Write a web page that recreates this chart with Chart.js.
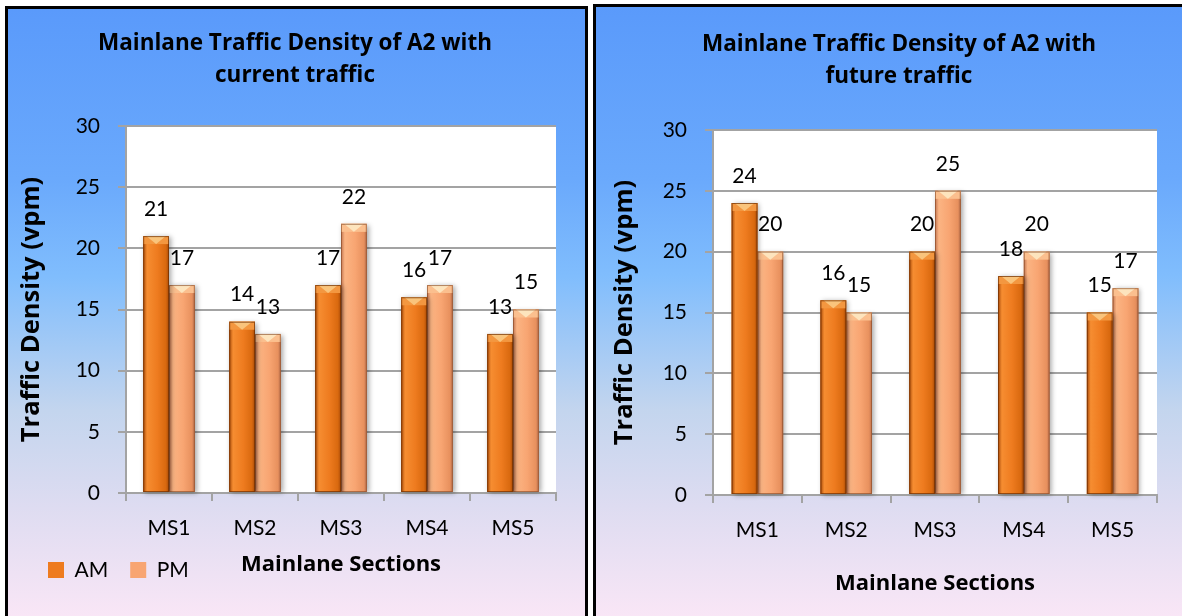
<!DOCTYPE html>
<html>
<head>
<meta charset="utf-8">
<title>Mainlane Traffic Density of A2</title>
<script src="https://cdn.jsdelivr.net/npm/chart.js@4.4.1/dist/chart.umd.min.js"></script>
<style>
  html, body { margin: 0; padding: 0; background: #fff; overflow: hidden; width: 1182px; height: 616px; }
  .panel {
    position: absolute; box-sizing: border-box; border: 3px solid #000;
    background: linear-gradient(to bottom, #5a9afb 0%, #6aa9fc 28%, #80bdfd 44%, #c3d5ee 66%, #dedcf1 82%, #f9e6f6 100%);
  }
  #panelCurrent { left: 5px; top: 6px; width: 583px; height: 614px; }
  #panelFuture  { left: 593px; top: 4px; width: 640px; height: 616px; }
  canvas { position: absolute; left: 0; top: 0; }
</style>
</head>
<body>
<div class="panel" id="panelCurrent"><canvas id="chartCurrent" width="577" height="622"></canvas></div>
<div class="panel" id="panelFuture"><canvas id="chartFuture" width="600" height="609"></canvas></div>
<script>
// Mainlane sections and densities (vehicles per mile), morning and evening peaks
const sections = ['MS1', 'MS2', 'MS3', 'MS4', 'MS5'];
const seriesNames = ['AM', 'PM'];
const currentAM = [21, 14, 17, 16, 13];
const currentPM = [17, 13, 22, 17, 15];
const futureAM = [24, 16, 20, 18, 15];
const futurePM = [20, 15, 25, 20, 17];
const densityMin = 0;
const densityMax = 30;
const densityStep = 5;
const titleCurrent = ['Mainlane Traffic Density of A2 with', 'current traffic'];
const titleFuture = ['Mainlane Traffic Density of A2 with', 'future traffic'];
const xAxisTitle = 'Mainlane Sections';
const yAxisTitle = 'Traffic Density (vpm)';

const FONT = 'Lato, "Open Sans", sans-serif';
const HEAD_FONT = '"Open Sans", Lato, sans-serif';
const GRID = '#a3a3a3';
const Y_TITLE_SIZE = 25.5;

// Colour ramps for the bevelled bars (AM darker orange, PM light orange)
const BAR_TONES = [
  { body: '#ee7b1f', light: '#f68d31', shade: '#d9690f', edge: '#a84a08', cap: '#f39740', capLight: '#f9c47c', outline: 'rgba(110,45,0,0.7)' },
  { body: '#f8a572', light: '#fbb483', shade: '#e8915e', edge: '#c27450', cap: '#fbbf8e', capLight: '#fde4bd', outline: 'rgba(130,70,35,0.6)' }
];

// White plotting area behind the grid
const plotBackground = {
  id: 'plotBackground',
  beforeDraw(chart) {
    const { ctx, chartArea: a } = chart;
    ctx.save();
    ctx.fillStyle = '#ffffff';
    ctx.fillRect(a.left, a.top, a.right - a.left, a.bottom - a.top);
    ctx.restore();
  }
};

// Shading and bevelled cap on each bar, drawn over the library's bar rectangles
const barShade = {
  id: 'barShade',
  afterDatasetDraw(chart, args) {
    const tone = BAR_TONES[args.index % BAR_TONES.length];
    const ctx = chart.ctx;
    args.meta.data.forEach(bar => {
      const { x, y, base, width } = bar.getProps(['x', 'y', 'base', 'width'], true);
      const l = x - width / 2, r = x + width / 2, h = base - y;
      ctx.save();
      ctx.shadowColor = 'rgba(0,0,0,0.35)';
      ctx.shadowBlur = 5;
      ctx.shadowOffsetX = 2;
      ctx.shadowOffsetY = 1;
      const g = ctx.createLinearGradient(l, 0, r, 0);
      g.addColorStop(0, tone.edge);
      g.addColorStop(0.15, tone.light);
      g.addColorStop(0.55, tone.body);
      g.addColorStop(0.88, tone.shade);
      g.addColorStop(1, tone.edge);
      ctx.fillStyle = g;
      ctx.fillRect(l, y, width, h);
      ctx.restore();

      const cap = Math.min(8, h);
      ctx.save();
      ctx.fillStyle = tone.cap;
      ctx.fillRect(l, y, width, cap);
      ctx.beginPath();
      ctx.moveTo(l + 3, y);
      ctx.lineTo(r - 3, y);
      ctx.lineTo(x, y + cap);
      ctx.closePath();
      ctx.fillStyle = tone.capLight;
      ctx.fill();
      ctx.strokeStyle = tone.outline;
      ctx.lineWidth = 1;
      ctx.strokeRect(l + 0.5, y + 0.5, width - 1, h - 1);
      ctx.restore();
    });
  }
};

// Value written above every bar
const valueLabels = {
  id: 'valueLabels',
  afterDatasetsDraw(chart, args, opts) {
    const ctx = chart.ctx;
    ctx.save();
    ctx.font = opts.size + 'px ' + FONT;
    ctx.fillStyle = '#000';
    ctx.textAlign = 'center';
    ctx.textBaseline = 'middle';
    chart.data.datasets.forEach((ds, i) => {
      chart.getDatasetMeta(i).data.forEach((bar, j) => {
        ctx.fillText(String(ds.data[j]), bar.x, bar.y - opts.lift);
      });
    });
    ctx.restore();
  }
};

// Legend sits on the same row as the category axis title
const legendPlacement = {
  id: 'legendPlacement',
  afterLayout(chart, args, opts) {
    const lg = chart.legend;
    if (!lg || !opts.enabled) return;
    const h = lg.height;
    lg.left = opts.left;
    lg.top = chart.chartArea.bottom + opts.drop;
    lg.bottom = lg.top + h;
  }
};

function buildChart(id, title, am, pm, p) {
  return new Chart(document.getElementById(id), {
    type: 'bar',
    data: {
      labels: sections,
      datasets: [
        { label: seriesNames[0], data: am, backgroundColor: BAR_TONES[0].body, borderWidth: 0 },
        { label: seriesNames[1], data: pm, backgroundColor: BAR_TONES[1].body, borderWidth: 0 }
      ]
    },
    plugins: [plotBackground, barShade, valueLabels, legendPlacement],
    options: {
      responsive: false,
      animation: false,
      devicePixelRatio: 1,
      categoryPercentage: p.catPct,
      barPercentage: 1,
      layout: { padding: { left: p.padLeft, right: p.padRight, top: 0, bottom: 0 } },
      plugins: {
        title: {
          display: true, text: title, color: '#000',
          font: { family: HEAD_FONT, size: 22.5, weight: 'bold', lineHeight: 32 / 22.5 },
          padding: { top: p.titleTop, bottom: p.titleBottom }
        },
        legend: {
          display: p.legend, position: 'bottom', align: 'start',
          labels: { boxWidth: 16, boxHeight: 16, padding: 22, color: '#000', font: { family: FONT, size: 21 } }
        },
        tooltip: { enabled: false },
        valueLabels: { lift: 27, size: 21 },
        legendPlacement: { enabled: p.legend, left: 18, drop: 44.5 }
      },
      scales: {
        x: {
          afterFit(s) { s.height = p.xHeight; },
          grid: { display: true, drawOnChartArea: false, drawTicks: true, tickLength: 8, offset: true, color: GRID, lineWidth: 2 },
          border: { display: true, color: GRID, width: 2 },
          ticks: { color: '#000', padding: 15, font: { family: FONT, size: 21 } },
          title: { display: true, text: xAxisTitle, color: '#000', font: { family: HEAD_FONT, size: 22, weight: 'bold', lineHeight: 1.2 }, padding: { top: 0, bottom: p.xTitleBottom } }
        },
        y: {
          min: densityMin, max: densityMax,
          afterFit(s) { s.width = p.yWidth; },
          grid: { color: GRID, lineWidth: 2, tickLength: 8, drawTicks: true },
          border: { display: true, color: GRID, width: 2 },
          ticks: { stepSize: densityStep, color: '#000', padding: 18, font: { family: FONT, size: 21 } },
          title: { display: true, text: yAxisTitle, color: '#000', font: { family: HEAD_FONT, size: Y_TITLE_SIZE, weight: 'bold', lineHeight: 1.2 }, padding: { top: p.yTitleTop, bottom: 0 } }
        }
      }
    }
  });
}

buildChart('chartCurrent', titleCurrent, currentAM, currentPM, {
  catPct: 0.6, padLeft: 26, padRight: 29, titleTop: 19, titleBottom: 34, legend: true,
  xHeight: 85, xTitleBottom: 0, yWidth: 92, yTitleTop: 24 - 26 - 0.6 * Y_TITLE_SIZE
});
buildChart('chartFuture', titleFuture, futureAM, futurePM, {
  catPct: 0.58, padLeft: 45, padRight: 39, titleTop: 22, titleBottom: 37, legend: false,
  xHeight: 121, xTitleBottom: 19, yWidth: 72, yTitleTop: 29 - 45 - 0.6 * Y_TITLE_SIZE
});
</script>
</body>
</html>
